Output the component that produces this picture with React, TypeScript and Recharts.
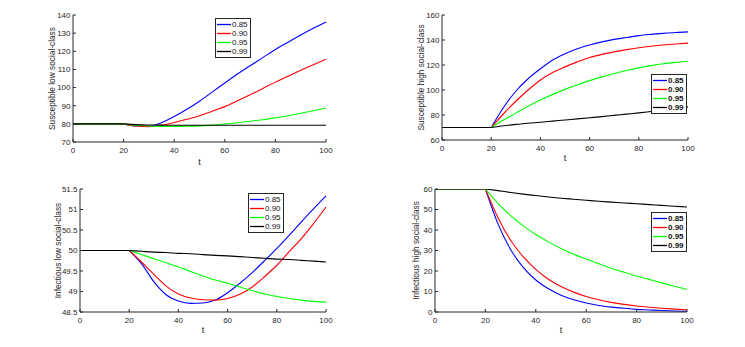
import { LineChart, Line, XAxis, YAxis, Legend } from "recharts";

// time grid shared by all four panels
const T = [0, 5, 10, 15, 20, 25, 30, 35, 40, 45, 50, 55, 60, 65, 70, 75, 80, 85, 90, 95, 100];
const SWITCH_T = 20;
const LEVELS = ["0.85", "0.90", "0.95", "0.99"];
const COLORS = ["#0000ff", "#ff0000", "#00ff00", "#000000"];
const AX = "#262626";
const FONT = '"Liberation Sans", Arial, Helvetica, sans-serif';

const X_TICKS = [0, 20, 40, 60, 80, 100];

// susceptible, low social class
const susLow85 = [80, 80, 80, 80, 80, 78.8, 78.7, 80.6, 84, 88, 92.5, 97.5, 102.5, 107.5, 112, 116.5, 121, 125, 129, 132.7, 136.2];
const susLow90 = [80, 80, 80, 80, 80, 78.8, 78.5, 79.2, 80.7, 82.5, 84.5, 87, 89.5, 92.8, 96, 99.5, 103, 106.3, 109.5, 112.6, 115.6];
const susLow95 = [80, 80, 80, 80, 80, 79.2, 78.8, 78.6, 78.6, 78.7, 78.9, 79.3, 79.9, 80.6, 81.4, 82.3, 83.3, 84.5, 85.8, 87.2, 88.7];
const susLow99 = [80, 80, 80, 80, 80, 79.6, 79.4, 79.3, 79.2, 79.2, 79.2, 79.2, 79.2, 79.2, 79.2, 79.2, 79.2, 79.2, 79.2, 79.2, 79.2];
const susLowTicks = [70, 80, 90, 100, 110, 120, 130, 140];

// susceptible, high social class
const susHigh85 = [70, 70, 70, 70, 70, 86, 99, 109, 117, 124, 129, 133, 136, 138.5, 140.5, 142, 143.5, 144.5, 145.3, 146, 146.5];
const susHigh90 = [70, 70, 70, 70, 70, 81, 91, 100, 108, 114, 118.5, 122.5, 126, 128.5, 130.5, 132.3, 133.8, 135, 136, 136.8, 137.5];
const susHigh95 = [70, 70, 70, 70, 70, 76, 81.5, 87, 92, 96.5, 100.5, 104.2, 107.5, 110.5, 113.2, 115.6, 117.7, 119.5, 121, 122.1, 123];
const susHigh99 = [70, 70, 70, 70, 70, 71.4, 72.5, 73.4, 74.2, 75.1, 76, 76.9, 77.8, 78.7, 79.7, 80.7, 81.7, 82.8, 83.9, 85.1, 86.5];
const susHighTicks = [60, 80, 100, 120, 140, 160];

// infectious, low social class
const infLow85 = [50, 50, 50, 50, 50, 49.68, 49.24, 48.92, 48.77, 48.71, 48.72, 48.79, 48.97, 49.2, 49.46, 49.75, 50.05, 50.37, 50.7, 51.02, 51.33];
const infLow90 = [50, 50, 50, 50, 50, 49.72, 49.42, 49.13, 48.94, 48.84, 48.8, 48.79, 48.83, 48.93, 49.11, 49.36, 49.64, 49.97, 50.29, 50.66, 51.06];
const infLow95 = [50, 50, 50, 50, 50, 49.9, 49.8, 49.7, 49.6, 49.49, 49.38, 49.28, 49.2, 49.11, 49.02, 48.94, 48.88, 48.83, 48.79, 48.76, 48.74];
const infLow99 = [50, 50, 50, 50, 50, 49.98, 49.96, 49.95, 49.93, 49.92, 49.9, 49.88, 49.87, 49.85, 49.83, 49.81, 49.79, 49.78, 49.76, 49.74, 49.72];
const infLowTicks = [48.5, 49, 49.5, 50, 50.5, 51, 51.5];

// infectious, high social class
const infHigh85 = [60, 60, 60, 60, 60, 43, 30.5, 21.8, 15.6, 11.3, 8.2, 6, 4.4, 3.2, 2.4, 1.8, 1.3, 1.0, 0.7, 0.5, 0.35];
const infHigh90 = [60, 60, 60, 60, 60, 46, 35, 27, 20.8, 16, 12.4, 9.7, 7.6, 6, 4.7, 3.7, 2.9, 2.3, 1.8, 1.4, 1.1];
const infHigh95 = [60, 60, 60, 60, 60, 53, 47, 42, 37.8, 34.2, 31, 28.2, 25.8, 23.5, 21.3, 19.4, 17.6, 15.9, 14.2, 12.6, 11];
const infHigh99 = [60, 60, 60, 60, 60, 59.2, 58.3, 57.5, 56.8, 56.1, 55.5, 55, 54.5, 54, 53.6, 53.2, 52.8, 52.4, 52, 51.6, 51.2];
const infHighTicks = [0, 10, 20, 30, 40, 50, 60];

type PanelProps = {
  left: number;
  top: number;
  w: number;
  h: number;
  series: number[][];
  ticks: number[];
  yLabel: string;
  yLabelDx: number;
  xLabelDy: number;
  legendX: number;
  legendY: number;
  bold?: boolean;
};

const LegendBox = ({ bold }: { bold?: boolean }) => (
  <div
    style={{
      border: `1px solid ${AX}`,
      background: "#fff",
      padding: "1px 2px 1px 1px",
      fontFamily: FONT,
      fontSize: 8,
      fontWeight: bold ? 700 : 400,
      color: "#111",
      lineHeight: "9px",
    }}
  >
    {LEVELS.map((name, k) => (
      <div key={name} style={{ display: "flex", alignItems: "center", height: 9 }}>
        <svg width={14} height={9} style={{ display: "block", marginRight: 1 }}>
          <line x1={0} x2={14} y1={4.5} y2={4.5} stroke={COLORS[k]} strokeWidth={1.3} />
        </svg>
        <span>{name}</span>
      </div>
    ))}
  </div>
);

function Panel({ left, top, w, h, series, ticks, yLabel, yLabelDx, xLabelDy, legendX, legendY, bold }: PanelProps) {
  // split every series at the switch time so the curve keeps its corner there
  const data = T.map((t, i) => {
    const row: Record<string, number | undefined> = { t };
    series.forEach((s, k) => {
      row["p" + k] = t <= SWITCH_T ? s[i] : undefined;
      row["s" + k] = t >= SWITCH_T ? s[i] : undefined;
    });
    return row;
  });
  const dom = [ticks[0], ticks[ticks.length - 1]];
  const tickStyle = { fill: AX, fontSize: 8, fontFamily: FONT };
  return (
    <div style={{ position: "absolute", left: left - 40, top: top - 10 }}>
      <LineChart width={w + 50} height={h + 40} data={data} margin={{ top: 10, right: 10, left: 0, bottom: 0 }}>
        <XAxis
          xAxisId="b"
          type="number"
          dataKey="t"
          domain={[0, 100]}
          ticks={X_TICKS}
          height={30}
          tickSize={-3}
          tickMargin={8}
          stroke={AX}
          tick={tickStyle}
          label={{
            content: ({ viewBox }: any) => (
              <text
                x={viewBox.x + viewBox.width / 2}
                y={viewBox.y + xLabelDy}
                textAnchor="middle"
                dominantBaseline="central"
                fontSize={9}
                fontFamily={FONT}
                fill={AX}
              >
                t
              </text>
            ),
          }}
        />
        <XAxis
          xAxisId="top"
          orientation="top"
          type="number"
          dataKey="t"
          domain={[0, 100]}
          ticks={X_TICKS}
          height={0}
          tickSize={-3}
          tickFormatter={() => ""}
          stroke={AX}
        />
        <YAxis
          yAxisId="l"
          type="number"
          domain={dom}
          ticks={ticks}
          width={40}
          tickSize={-3}
          tickMargin={5.5}
          stroke={AX}
          tick={tickStyle}
          allowDataOverflow
          label={{
            content: ({ viewBox }: any) => {
              const x = viewBox.x + viewBox.width + yLabelDx;
              const y = viewBox.y + viewBox.height / 2;
              return (
                <text
                  x={x}
                  y={y}
                  transform={`rotate(-90 ${x} ${y})`}
                  textAnchor="middle"
                  dominantBaseline="central"
                  fontSize={8.3}
                  fontFamily={FONT}
                  fill={AX}
                >
                  {yLabel}
                </text>
              );
            },
          }}
        />
        <YAxis
          yAxisId="r"
          orientation="right"
          type="number"
          domain={dom}
          ticks={ticks}
          width={0}
          tickSize={-3}
          tickFormatter={() => ""}
          stroke={AX}
          allowDataOverflow
        />
        {series.map((_, k) => (
          <Line
            key={"p" + k}
            xAxisId="b"
            yAxisId="l"
            type="linear"
            dataKey={"p" + k}
            stroke={COLORS[k]}
            strokeWidth={1.1}
            dot={false}
            legendType="none"
            isAnimationActive={false}
          />
        ))}
        {series.map((_, k) => (
          <Line
            key={"s" + k}
            xAxisId="b"
            yAxisId="l"
            type="monotone"
            dataKey={"s" + k}
            name={LEVELS[k]}
            stroke={COLORS[k]}
            strokeWidth={1.1}
            dot={false}
            isAnimationActive={false}
          />
        ))}
        <Legend
          layout="vertical"
          align="center"
          verticalAlign="middle"
          content={() => <LegendBox bold={bold} />}
          wrapperStyle={{ left: legendX, top: legendY, width: "auto", height: "auto" }}
        />
      </LineChart>
    </div>
  );
}

export default function App() {
  return (
    <div style={{ position: "absolute", left: 0, top: 0, width: 745, height: 347, background: "#fff" }}>
      <Panel
        left={73}
        top={15}
        w={253}
        h={127}
        series={[susLow85, susLow90, susLow95, susLow99]}
        ticks={susLowTicks}
        yLabel="Susceptible low social-class"
        yLabelDx={-21}
        xLabelDy={20}
        legendX={182}
        legendY={13}
      />
      <Panel
        left={442}
        top={15}
        w={246}
        h={125}
        series={[susHigh85, susHigh90, susHigh95, susHigh99]}
        ticks={susHighTicks}
        yLabel="Susceptible high social-class"
        yLabelDx={-21}
        xLabelDy={18}
        legendX={249}
        legendY={69}
        bold
      />
      <Panel
        left={80}
        top={189}
        w={246}
        h={123}
        series={[infLow85, infLow90, infLow95, infLow99]}
        ticks={infLowTicks}
        yLabel="Infectious low social-class"
        yLabelDx={-22}
        xLabelDy={18}
        legendX={208}
        legendY={14}
      />
      <Panel
        left={435}
        top={189}
        w={252}
        h={123}
        series={[infHigh85, infHigh90, infHigh95, infHigh99]}
        ticks={infHighTicks}
        yLabel="Infectious high social-class"
        yLabelDx={-19}
        xLabelDy={18}
        legendX={256}
        legendY={33}
        bold
      />
    </div>
  );
}
